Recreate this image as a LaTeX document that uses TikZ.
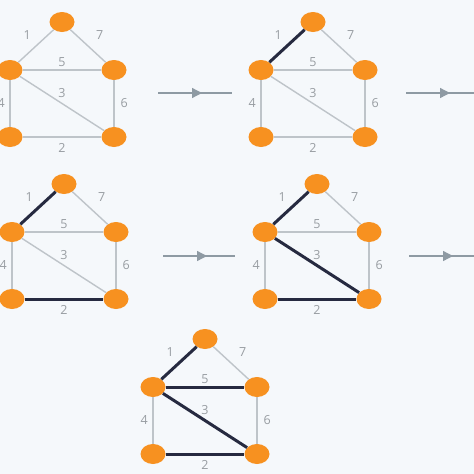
\documentclass[tikz,border=0pt]{standalone}
\usepackage{fontspec}
\setmainfont{Open Sans}
\usetikzlibrary{shapes.geometric,positioning,arrows.meta,decorations.markings}
\definecolor{bgpaper}{RGB}{245,248,251}
\definecolor{vertexorange}{RGB}{247,145,32}
\definecolor{lightedge}{RGB}{190,196,201}
\definecolor{heavyedge}{RGB}{38,42,64}
\definecolor{weightgrey}{RGB}{152,157,162}
\definecolor{stepgrey}{RGB}{142,154,163}
\tikzset{
    vertex/.style={ellipse,fill=vertexorange,minimum width=25pt,minimum height=20pt,inner sep=0pt},
    lightline/.style={draw=lightedge,line width=1.4pt},
    heavyline/.style={draw=heavyedge,line width=3pt},
    weight/.style={text=weightgrey,inner sep=0pt,font=\fontsize{12.5}{13}\selectfont},
    nextstep/.style={draw=stepgrey,line width=1.3pt,postaction={decorate},
        decoration={markings,mark=at position 44pt with {\arrow[stepgrey]{Triangle[length=10pt,width=10pt]}}}}
}
\begin{document}
\begin{tikzpicture}[x=1pt,y=-1pt]
    \fill[bgpaper] (0,0) rectangle (474,474);
    \useasboundingbox (0,0) rectangle (474,474);
    % one house graph per step
    \foreach \g/\gx/\gy in {a/10/70, b/261/70, c/12/232, d/265/232, e/153/387} {
        \node[vertex] (\g-t) at (\gx+52,\gy-48) {};
        \node[vertex] (\g-l) at (\gx,\gy) {};
        \node[vertex] (\g-r) at (\gx+104,\gy) {};
        \node[vertex] (\g-bl) at (\gx,\gy+67) {};
        \node[vertex] (\g-br) at (\gx+104,\gy+67) {};
        \draw[lightline] (\g-l) -- node[weight,midway,above left=5.5pt and 4.5pt]{1} (\g-t);
        \draw[lightline] (\g-t) -- node[weight,midway,above right=5.5pt and 7.5pt]{7} (\g-r);
        \draw[lightline] (\g-l) -- node[weight,midway,above=2.5pt]{5} (\g-r);
        \draw[lightline] (\g-l) -- node[weight,midway,above=5pt]{3} (\g-br);
        \draw[lightline] (\g-l) -- node[weight,midway,left=4.5pt]{4} (\g-bl);
        \draw[lightline] (\g-r) -- node[weight,midway,right=6pt]{6} (\g-br);
        \draw[lightline] (\g-bl) -- node[weight,midway,below=6pt]{2} (\g-br);
    }
    % edges already taken
    \foreach \g/\u/\v in {b/l/t, c/l/t, c/bl/br, d/l/t, d/bl/br, d/l/br, e/l/t, e/bl/br, e/l/br, e/l/r}
        \draw[heavyline] (\g-\u) -- (\g-\v);
    % arrows between steps
    \foreach \i/\ax/\bx/\ay in {1/158/232/93, 2/406/474/93, 3/163/235/256, 4/409/474/256} {
        \coordinate (go\i a) at (\ax,\ay);
        \coordinate (go\i b) at (\bx,\ay);
        \draw[nextstep] (go\i a) -- (go\i b);
    }
\end{tikzpicture}
\end{document}
